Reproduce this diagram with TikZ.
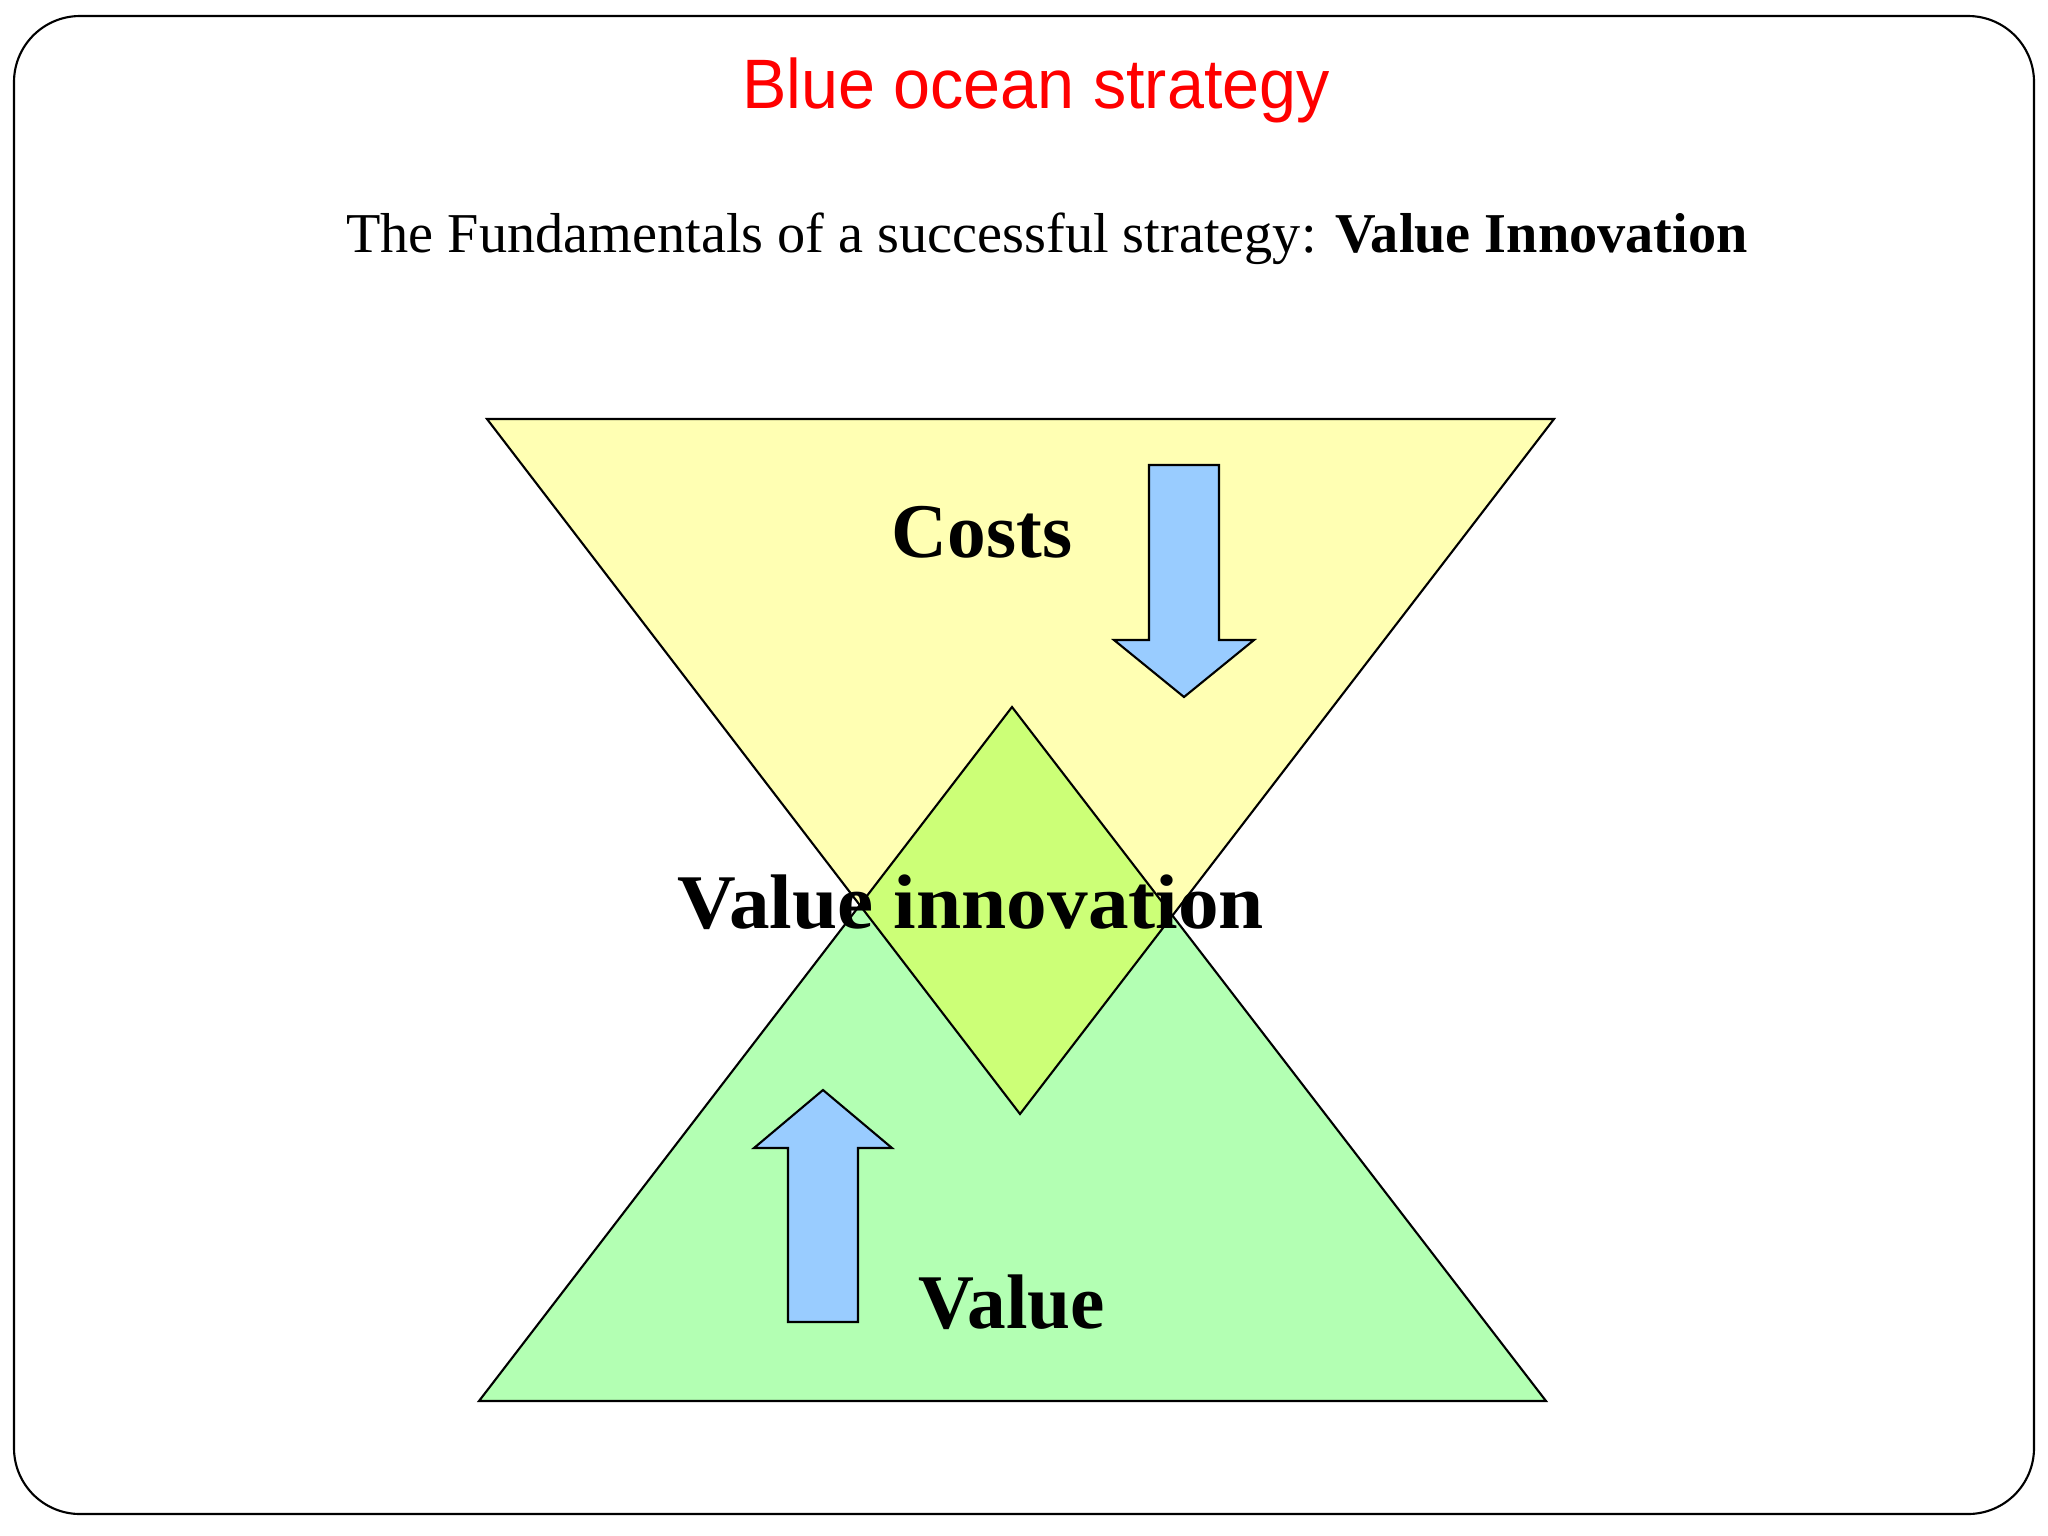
\documentclass[tikz,border=0pt]{standalone}
\usepackage{fontspec}
\setmainfont{Liberation Serif}
\newfontfamily\titlefont{Liberation Sans}
\definecolor{titlered}{HTML}{FF0000}
\definecolor{costyellow}{HTML}{FFFFB3}
\definecolor{valuegreen}{HTML}{B3FFB3}
\definecolor{overlapgreen}{HTML}{CCFF77}
\definecolor{arrowblue}{HTML}{99CCFF}
\tikzset{
  outline/.style={draw=black, line width=0.6pt, line join=miter},
  bigarrow/.style={fill=arrowblue, draw=black, line width=0.6pt},
  bigword/.style={font=\fontsize{22}{26}\selectfont\bfseries, anchor=base, inner sep=0pt}
}
\begin{document}
\begin{tikzpicture}[x=0.01cm, y=-0.01cm]
\useasboundingbox (0,0) rectangle (2048,1536);
\fill[white] (0,0) rectangle (2048,1536);
% frame
\draw[line width=0.6pt, rounded corners=0.66cm] (14,16) rectangle (2034,1514);
% title
\node[font=\titlefont\fontsize{19.9}{24}\selectfont, text=titlered, anchor=base, inner sep=0pt] (title) at (1036,108) {\scalebox{0.95}[1]{Blue ocean strategy}};
\node[font=\fontsize{16}{20}\selectfont, anchor=base, inner sep=0pt] (subtitle) at (1047,252) {The Fundamentals of a successful strategy: \textbf{Value Innovation}};
% triangles
\coordinate (gL) at (479,1401);
\coordinate (gR) at (1546,1401);
\coordinate (gT) at (1012,707);
\coordinate (yL) at (487,419);
\coordinate (yR) at (1554,419);
\coordinate (yB) at (1020,1114);
\fill[valuegreen] (gL) -- (gR) -- (gT) -- cycle;
\fill[costyellow] (yL) -- (yR) -- (yB) -- cycle;
\begin{scope}
  \clip (gL) -- (gR) -- (gT) -- cycle;
  \fill[overlapgreen] (yL) -- (yR) -- (yB) -- cycle;
\end{scope}
\draw[outline] (gL) -- (gR) -- (gT) -- cycle;
\draw[outline] (yL) -- (yR) -- (yB) -- cycle;
% down arrow (costs)
\draw[bigarrow] (1149,465) -- (1219,465) -- (1219,640) -- (1254,640) -- (1184,697) -- (1114,640) -- (1149,640) -- cycle;
% up arrow (value)
\draw[bigarrow] (788,1322) -- (858,1322) -- (858,1148) -- (892,1148) -- (823,1090) -- (754,1148) -- (788,1148) -- cycle;
% labels
\node[bigword] (costs) at (982,557) {Costs};
\node[bigword] (vinn) at (971,928) {\scalebox{1.05}[1]{Value innovation}};
\node[bigword] (value) at (1012,1328) {Value};
\end{tikzpicture}
\end{document}
